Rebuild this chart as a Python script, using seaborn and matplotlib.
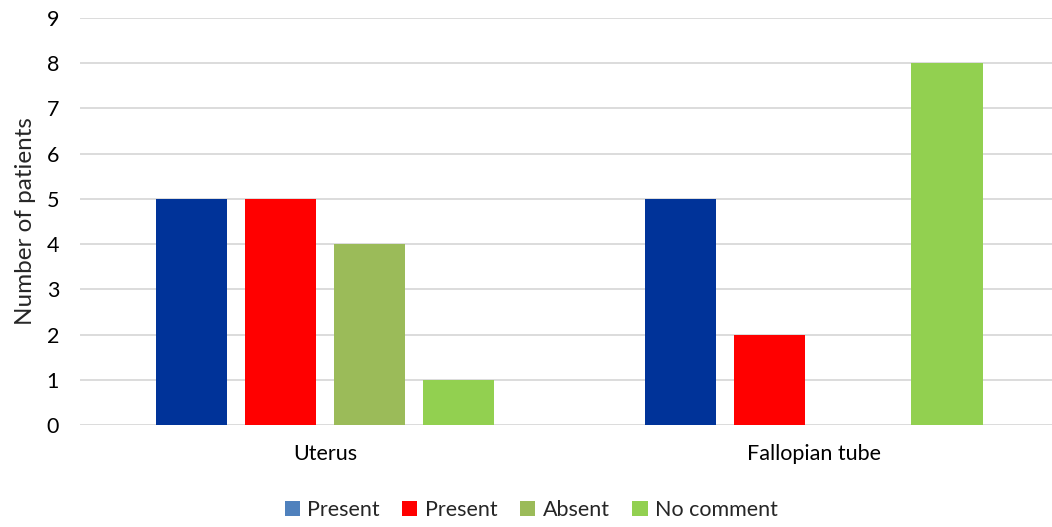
import matplotlib
matplotlib.use("Agg")
import matplotlib.pyplot as plt
from matplotlib.patches import Patch
import seaborn as sns
import pandas as pd

# Chart data
organs = ["Uterus", "Fallopian tube"]
series_keys = ["present_a", "present_b", "absent", "no_comment"]
series_labels = ["Present", "Present", "Absent", "No comment"]
uterus_counts = [5, 5, 4, 1]
fallopian_counts = [5, 2, 0, 8]

bar_colors = ["#003399", "#FF0000", "#9BBB59", "#92D050"]
legend_colors = ["#4F81BD", "#FF0000", "#9BBB59", "#92D050"]

rows = []
for organ, counts in zip(organs, [uterus_counts, fallopian_counts]):
    for key, val in zip(series_keys, counts):
        rows.append({"organ": organ, "series": key, "count": val})
df = pd.DataFrame(rows)

sns.set_theme(style="white")
plt.rcParams["font.family"] = ["Lato", "DejaVu Sans"]

fig = plt.figure(figsize=(10.52, 5.27), dpi=100)
ax = fig.add_axes([80 / 1052, 1 - 425 / 527, 1 - 80 / 1052, (425 - 18) / 527])

sns.barplot(
    data=df, x="organ", y="count", hue="series", order=organs,
    hue_order=series_keys, palette=bar_colors, width=0.728, gap=0.2,
    saturation=1, ax=ax, legend=False, zorder=3, edgecolor="none",
)

ax.set_xlim(-0.502, 1.488)
ax.set_ylim(0, 9)
ax.set_yticks(range(0, 10))
ax.yaxis.grid(True, color="#D9D9D9", linewidth=1.3, zorder=0)
ax.set_axisbelow(True)
for s in ax.spines.values():
    s.set_visible(False)
ax.tick_params(axis="both", length=0, labelsize=15.5, colors="#000000")
ax.tick_params(axis="y", pad=15)
ax.tick_params(axis="x", pad=14)
ax.set_xlabel("")
ax.set_ylabel("Number of patients", fontsize=17.5, labelpad=8)

handles = [Patch(facecolor=c, edgecolor="none") for c in legend_colors]
fig.legend(
    handles, series_labels, loc="lower center", bbox_to_anchor=(0.505, -0.024),
    ncol=4, frameon=False, fontsize=15.5, handlelength=0.7, handleheight=0.7,
    handletextpad=0.35, columnspacing=1.05,
)

fig.savefig("out.png", dpi=100)
